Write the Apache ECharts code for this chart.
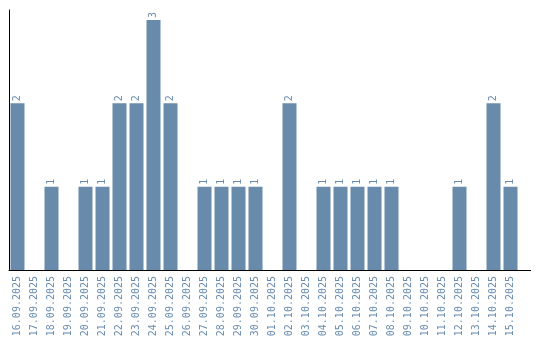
<!DOCTYPE html>
<html>
<head>
<meta charset="utf-8">
<script src="https://cdn.jsdelivr.net/npm/echarts@6/dist/echarts.min.js"></script>
<style>html,body{margin:0;padding:0;background:#fff}#c{width:540px;height:340px}</style>
</head>
<body>
<div id="c"></div>
<script>
var categories = ["16.09.2025","17.09.2025","18.09.2025","19.09.2025","20.09.2025","21.09.2025","22.09.2025","23.09.2025","24.09.2025","25.09.2025","26.09.2025","27.09.2025","28.09.2025","29.09.2025","30.09.2025","01.10.2025","02.10.2025","03.10.2025","04.10.2025","05.10.2025","06.10.2025","07.10.2025","08.10.2025","09.10.2025","10.10.2025","11.10.2025","12.10.2025","13.10.2025","14.10.2025","15.10.2025"];
var values = [2,0,1,0,1,1,2,2,3,2,0,1,1,1,1,0,2,0,1,1,1,1,1,0,0,0,1,0,2,1];

var chart = echarts.init(document.getElementById('c'), null, {renderer: 'canvas'});
var labelColor = '#6a8caf';
chart.setOption({
  animation: false,
  grid: {left: 9, top: 10, width: 510, height: 260, containLabel: false},
  xAxis: {
    type: 'category',
    data: categories,
    axisLine: {show: true, lineStyle: {color: '#000', width: 1}},
    axisTick: {show: false},
    axisLabel: {
      rotate: 90, interval: 0, color: labelColor,
      fontFamily: 'DejaVu Sans Mono', fontSize: 10, margin: 6
    }
  },
  yAxis: {
    type: 'value', min: 0, max: 3.12,
    axisLine: {show: true, lineStyle: {color: '#000', width: 1}},
    axisTick: {show: false},
    axisLabel: {show: false},
    splitLine: {show: false}
  },
  series: [{
    type: 'bar',
    data: values.map(function (v) { return v === 0 ? null : v; }),
    barWidth: 14,
    itemStyle: {color: '#698bab'},
    label: {
      show: true, position: 'top', rotate: 90, distance: 2,
      align: 'left', verticalAlign: 'middle',
      color: labelColor, fontFamily: 'DejaVu Sans Mono', fontSize: 10
    }
  }],
  graphic: [{
    type: 'line', silent: true,
    shape: {x1: 515, y1: 270.5, x2: 531, y2: 270.5},
    style: {stroke: '#000', lineWidth: 1}
  }]
});
</script>
</body>
</html>
